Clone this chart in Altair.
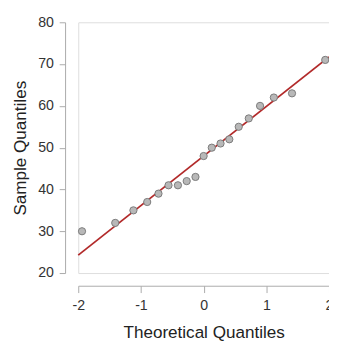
import altair as alt
import pandas as pd

theoretical = [-1.94, -1.41, -1.12, -0.90, -0.72, -0.56, -0.41, -0.27, -0.13, 0.0,
               0.13, 0.27, 0.41, 0.56, 0.72, 0.90, 1.12, 1.41, 1.94]
sample = [30, 32, 35, 37, 39, 41, 41, 42, 43, 48, 50, 51, 52, 55, 57, 60, 62, 63, 71]
line_x = [-2, 2]
line_y = [24.3, 71.7]
x_ticks = [-2, -1, 0, 1, 2]
y_ticks = [20, 30, 40, 50, 60, 70, 80]

pts = pd.DataFrame({"x": theoretical, "y": sample})
ln = pd.DataFrame({"x": line_x, "y": line_y})

FONT = "Liberation Sans"

xscale = alt.Scale(domain=[-2, 2], nice=False, zero=False)
yscale = alt.Scale(domain=[20, 80], nice=False, zero=False)

xaxis = alt.Axis(values=x_ticks, title="Theoretical Quantiles", offset=13, grid=False,
                 domainColor="#aaaaaa", tickColor="#aaaaaa", tickSize=7,
                 labelExpr="'' + datum.value",
                 labelFontSize=14.5, labelColor="#333333", labelPadding=6, labelFont=FONT,
                 titleFontSize=17.5, titleFont=FONT, titleFontWeight="normal",
                 titleColor="#222222", titlePadding=13, labelFlush=False)
yaxis = alt.Axis(values=y_ticks, title="Sample Quantiles", offset=13.5, grid=False,
                 domainColor="#aaaaaa", tickColor="#aaaaaa", tickSize=6,
                 labelExpr="'' + datum.value",
                 labelFontSize=14.5, labelColor="#333333", labelPadding=6, labelFont=FONT,
                 titleFontSize=17.5, titleFont=FONT, titleFontWeight="normal",
                 titleColor="#222222", titlePadding=8, labelFlush=False)

line = alt.Chart(ln).mark_line(color="#b22a2a", strokeWidth=1.8).encode(
    x=alt.X("x:Q", scale=xscale, axis=xaxis),
    y=alt.Y("y:Q", scale=yscale, axis=yaxis),
)
points = alt.Chart(pts).mark_point(filled=True, fill="#b8b8b8", stroke="#7a7a7a",
                                   strokeWidth=1, size=55, opacity=1).encode(
    x=alt.X("x:Q", scale=xscale),
    y=alt.Y("y:Q", scale=yscale),
)

chart = alt.layer(line, points).properties(
    width=257, height=257,
    autosize=alt.AutoSizeParams(type="none"),
    padding={"left": 72, "top": 10.5, "right": 0, "bottom": 66},
).configure_view(stroke=None).configure(font=FONT)

chart.save("out.html", embed_options={"renderer": "svg", "actions": False})
